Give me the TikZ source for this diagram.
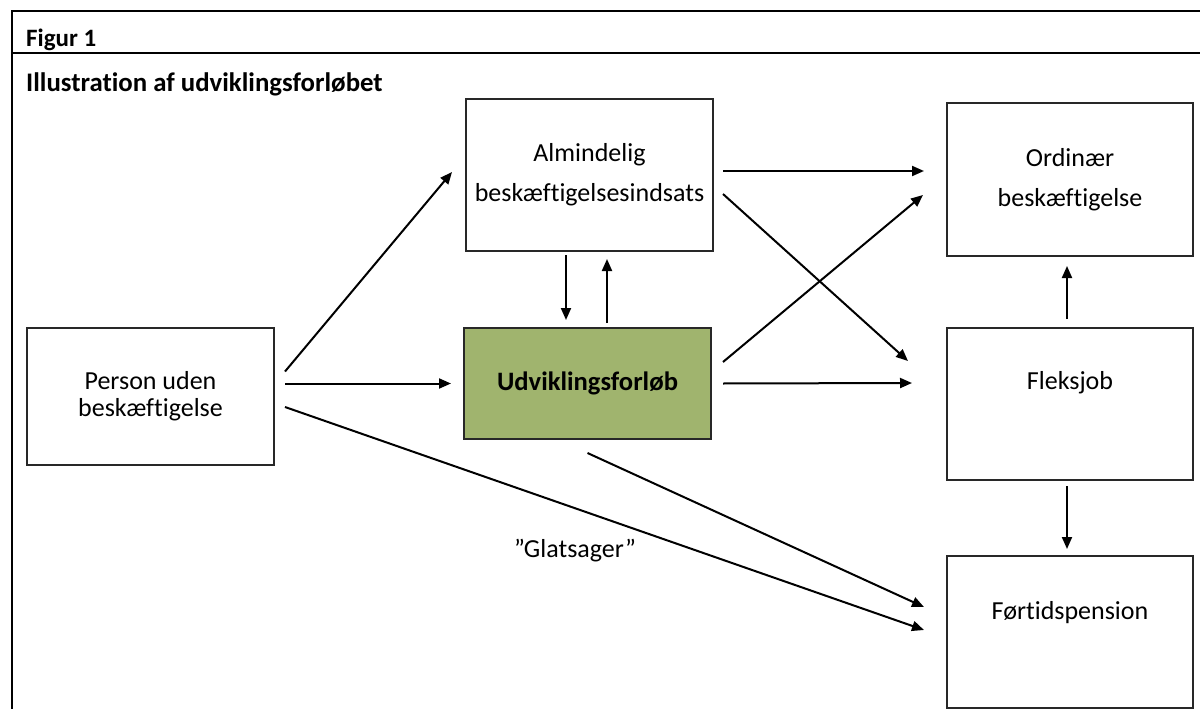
\documentclass[tikz,border=0pt]{standalone}
\usepackage{fontspec}
\setmainfont[Ligatures=NoCommon]{Carlito}
\usetikzlibrary{arrows.meta,calc}
\definecolor{udvgreen}{RGB}{160,180,110}
\definecolor{boxline}{RGB}{40,40,40}
\tikzset{
  box/.style={draw=boxline,line width=2pt,rectangle,inner sep=0pt,align=center,
    font=\fontsize{26}{40}\selectfont},
  arr/.style={line width=2pt,-{Triangle[length=12pt,width=10pt]}},
  frameline/.style={line width=2pt},
  lbl/.style={inner sep=0pt,font=\fontsize{26}{30}\selectfont},
}
\begin{document}
\begin{tikzpicture}[x=1pt,y=-1pt]
\useasboundingbox (0,0) rectangle (1200,709);
% frame
\coordinate (ftl) at (11.5,11.5);
\coordinate (ftr) at (1200,11.5);
\coordinate (fbl) at (11.5,709);
\coordinate (hl) at (11.5,53.5);
\coordinate (hr) at (1200,53.5);
\draw[frameline] (fbl) -- (ftl) -- (ftr);
\draw[frameline] (hl) -- (hr);
\node[anchor=base west,inner sep=0pt,font=\fontsize{25}{30}\selectfont\bfseries] (fig) at (26,47) {Figur 1};
\node[anchor=base west,inner sep=0pt,font=\fontsize{26.8}{30}\selectfont\bfseries] (ttl) at (26,92) {Illustration af udviklingsforløbet};
% boxes
\node[box,minimum width=247pt,minimum height=137pt,font=\fontsize{26}{27}\selectfont] (pers) at (150.5,396.5) {Person uden\\beskæftigelse};
\node[box,minimum width=247pt,minimum height=152pt] (alm) at (589.5,175) {Almindelig\\beskæftigelsesindsats};
\node[box,fill=udvgreen,minimum width=247pt,minimum height=111pt,font=\fontsize{26.6}{30}\selectfont\bfseries] (udv) at (587.5,383.5) {Udviklingsforløb};
\node[box,minimum width=246pt,minimum height=153pt] (ord) at (1070,179.5) {Ordinær\\beskæftigelse};
\node[box,minimum width=246pt,minimum height=152pt] (fleks) at (1070,404) {};
\node[lbl] (flekst) at ($(fleks.center)+(0,-21)$) {Fleksjob};
\node[box,minimum width=246pt,minimum height=152pt] (fort) at (1070,632) {};
\node[lbl] (fortt) at ($(fort.center)+(0,-19)$) {Førtidspension};
% arrows
\draw[arr] ([shift={(10,-25)}]pers.east) -- ([shift={(-13,-3)}]alm.west);
\draw[arr] ([shift={(10,-13)}]pers.east) -- ([shift={(-12,0)}]udv.west);
\draw[arr] ([shift={(10,10.5)}]pers.east) -- ([shift={(-22,-2)}]fort.west);
\node[lbl] (glat) at (575,551) {”Glatsager”};
\draw[arr] ([shift={(0,13)}]udv.south) -- ([shift={(-22,-25)}]fort.west);
\draw[arr] ([shift={(-23.5,3)}]alm.south) -- ([shift={(-21.5,-7)}]udv.north);
\draw[arr] ([shift={(19.5,-4)}]udv.north) -- ([shift={(17.5,7)}]alm.south);
\draw[arr] ([shift={(9,-4)}]alm.east) -- ([shift={(-22,-8.5)}]ord.west);
\draw[arr] ([shift={(9,19)}]alm.east) -- ([shift={(-38,-43)}]fleks.west);
\draw[arr] ([shift={(11,-21.5)}]udv.east) -- ([shift={(-23,15.5)}]ord.west);
\draw[arr] ([shift={(11,0)}]udv.east) -- ([shift={(-34,-21)}]fleks.west);
\draw[arr] ([shift={(-3,-8)}]fleks.north) -- ([shift={(-3,9)}]ord.south);
\draw[arr] ([shift={(-3,5)}]fleks.south) -- ([shift={(-3,-6)}]fort.north);
\end{tikzpicture}
\end{document}
